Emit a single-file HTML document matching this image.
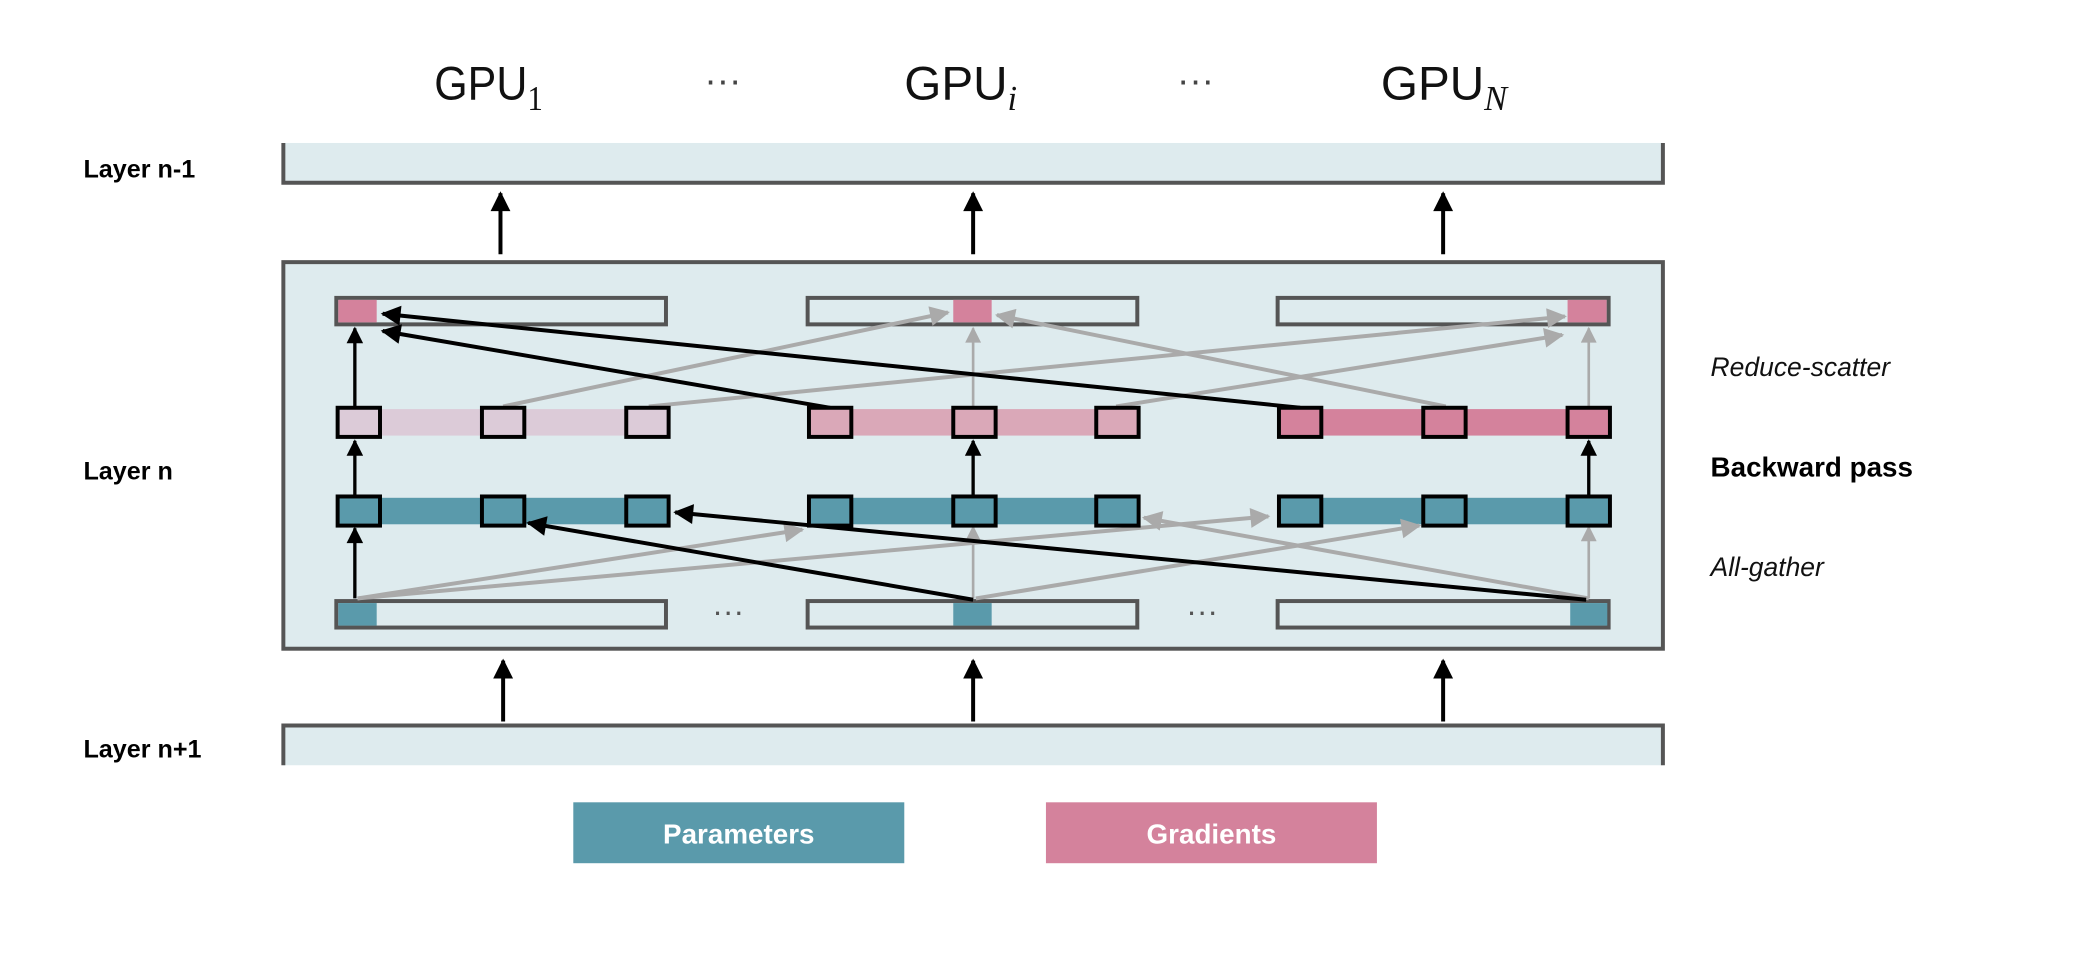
<!DOCTYPE html>
<html><head><meta charset="utf-8"><style>
html,body{margin:0;padding:0;background:#fff}
svg{display:block}
</style></head><body>
<svg width="2076" height="958" viewBox="0 0 1568 723.6" xmlns="http://www.w3.org/2000/svg" font-family="Liberation Sans, sans-serif">
<defs>
<marker id="ab" viewBox="0 0 10 10" refX="9" refY="5" markerWidth="5.5" markerHeight="5" orient="auto" markerUnits="strokeWidth"><path d="M0,0 L10,5 L0,10 z" fill="#000"/></marker>
<marker id="ab2" viewBox="0 0 10 10" refX="9" refY="5" markerWidth="6.5" markerHeight="5" orient="auto" markerUnits="strokeWidth"><path d="M0,0 L10,5 L0,10 z" fill="#000"/></marker>
<marker id="ag" viewBox="0 0 10 10" refX="9" refY="5" markerWidth="5.5" markerHeight="5" orient="auto" markerUnits="strokeWidth"><path d="M0,0 L10,5 L0,10 z" fill="#aaa"/></marker>
<marker id="ag2" viewBox="0 0 10 10" refX="9" refY="5" markerWidth="8" markerHeight="6" orient="auto" markerUnits="strokeWidth"><path d="M0,0 L10,5 L0,10 z" fill="#aaa"/></marker>
</defs>
<g font-size="36" fill="#111">
<text x="328" y="75" textLength="82" lengthAdjust="spacingAndGlyphs">GPU<tspan font-size="26" dy="8" font-family="Liberation Serif, serif">1</tspan></text>
<text x="683" y="75">GPU<tspan font-size="26" dy="8" font-family="Liberation Serif, serif" font-style="italic">i</tspan></text>
<text x="1043" y="75">GPU<tspan font-size="26" dy="8" font-family="Liberation Serif, serif" font-style="italic">N</tspan></text>
<text x="532" y="70" font-size="28" fill="#444">···</text>
<text x="889" y="70" font-size="28" fill="#444">···</text>
</g>
<g font-size="19" font-weight="bold" fill="#000">
<text x="63" y="134">Layer n-1</text>
<text x="63" y="362">Layer n</text>
<text x="63" y="572">Layer n+1</text>
<text x="1292" y="360" font-size="21">Backward pass</text>
</g>
<g font-size="20" font-style="italic" fill="#111">
<text x="1292" y="284">Reduce-scatter</text>
<text x="1292" y="435">All-gather</text>
</g>
<rect x="214" y="108" width="1042" height="30" fill="#deebee"/>
<path d="M214,108 V138 H1256 V108" fill="none" stroke="#555" stroke-width="3"/>
<rect x="214" y="548" width="1042" height="30" fill="#deebee"/>
<path d="M214,578 V548 H1256 V578" fill="none" stroke="#555" stroke-width="3"/>
<rect x="214" y="198" width="1042" height="292" fill="#deebee" stroke="#555" stroke-width="3"/>
<g stroke="#000" stroke-width="3" marker-end="url(#ab2)">
<line x1="378" y1="192" x2="378" y2="146"/>
<line x1="735" y1="192" x2="735" y2="146"/>
<line x1="1090" y1="192" x2="1090" y2="146"/>
<line x1="380" y1="545" x2="380" y2="499"/>
<line x1="735" y1="545" x2="735" y2="499"/>
<line x1="1090" y1="545" x2="1090" y2="499"/>
</g>
<g stroke="#555" stroke-width="3" fill="#deebee">
<rect x="254" y="225" width="249" height="20"/>
<rect x="610" y="225" width="249" height="20"/>
<rect x="965" y="225" width="250" height="20"/>
</g>
<g fill="#d4829c">
<rect x="255.5" y="226.5" width="29" height="17"/>
<rect x="720" y="226.5" width="29" height="17"/>
<rect x="1184" y="226.5" width="29.5" height="17"/>
</g>
<g stroke="#555" stroke-width="3" fill="#deebee">
<rect x="254" y="454" width="249" height="20"/>
<rect x="610" y="454" width="249" height="20"/>
<rect x="965" y="454" width="250" height="20"/>
</g>
<g fill="#5a9aab">
<rect x="255.5" y="455.5" width="29" height="17"/>
<rect x="720" y="455.5" width="29" height="17"/>
<rect x="1186" y="455.5" width="28" height="17"/>
</g>
<g font-size="24" fill="#555"><text x="538" y="470">···</text><text x="896" y="470">···</text></g>
<rect x="254" y="309" width="250" height="20" fill="#dccbd8"/>
<rect x="610" y="309" width="250" height="20" fill="#daa8b8"/>
<rect x="965" y="309" width="251" height="20" fill="#d4829c"/>
<rect x="254" y="376" width="250" height="20" fill="#5a9aab"/>
<rect x="610" y="376" width="250" height="20" fill="#5a9aab"/>
<rect x="965" y="376" width="251" height="20" fill="#5a9aab"/>
<g stroke="#aaa" stroke-width="3" fill="none" marker-end="url(#ag)">
<line x1="380" y1="307" x2="716" y2="236"/>
<line x1="490" y1="307" x2="1182" y2="239"/>
<line x1="843" y1="307" x2="1180" y2="253"/>
<line x1="1092" y1="307" x2="753" y2="238"/>
<line x1="270" y1="452" x2="606" y2="400"/>
<line x1="270" y1="452" x2="958" y2="390"/>
<line x1="737" y1="452" x2="1072" y2="397"/>
<line x1="1200" y1="452" x2="864" y2="391"/>
</g>
<g stroke="#aaa" stroke-width="2" fill="none" marker-end="url(#ag2)">
<line x1="735" y1="307" x2="735" y2="248"/>
<line x1="1200" y1="307" x2="1200" y2="248"/>
<line x1="735" y1="452" x2="735" y2="398"/>
<line x1="1200" y1="452" x2="1200" y2="398"/>
</g>
<g stroke="#000" stroke-width="3" fill="none" marker-end="url(#ab)">
<line x1="627" y1="308" x2="289" y2="250"/>
<line x1="982" y1="308" x2="289" y2="237"/>
<line x1="735" y1="453" x2="399" y2="395"/>
<line x1="1198" y1="453" x2="510" y2="387"/>
</g>
<g stroke="#000" stroke-width="2.5" fill="none" marker-end="url(#ab2)">
<line x1="268" y1="307" x2="268" y2="248"/>
<line x1="268" y1="452" x2="268" y2="399"/>
<line x1="735" y1="374" x2="735" y2="333"/>
<line x1="1200" y1="374" x2="1200" y2="333"/>
<line x1="268" y1="374" x2="268" y2="333"/>
</g>
<g stroke="#000" stroke-width="3">
<g fill="#dccbd8"><rect x="255" y="308" width="32" height="22"/><rect x="364" y="308" width="32" height="22"/><rect x="473" y="308" width="32" height="22"/></g>
<g fill="#daa8b8"><rect x="611" y="308" width="32" height="22"/><rect x="720" y="308" width="32" height="22"/><rect x="828" y="308" width="32" height="22"/></g>
<g fill="#d4829c"><rect x="966" y="308" width="32" height="22"/><rect x="1075" y="308" width="32" height="22"/><rect x="1184" y="308" width="32" height="22"/></g>
<g fill="#5a9aab">
<rect x="255" y="375" width="32" height="22"/><rect x="364" y="375" width="32" height="22"/><rect x="473" y="375" width="32" height="22"/>
<rect x="611" y="375" width="32" height="22"/><rect x="720" y="375" width="32" height="22"/><rect x="828" y="375" width="32" height="22"/>
<rect x="966" y="375" width="32" height="22"/><rect x="1075" y="375" width="32" height="22"/><rect x="1184" y="375" width="32" height="22"/>
</g>
</g>
<rect x="433" y="606" width="250" height="46" fill="#5a9aab"/>
<text x="558" y="637" text-anchor="middle" font-size="21" font-weight="bold" fill="#fff">Parameters</text>
<rect x="790" y="606" width="250" height="46" fill="#d4829c"/>
<text x="915" y="637" text-anchor="middle" font-size="21" font-weight="bold" fill="#fff">Gradients</text>
</svg>
</body></html>
